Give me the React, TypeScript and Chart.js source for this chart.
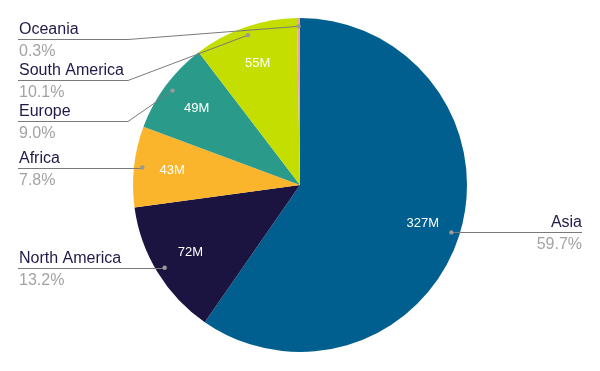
import React, { useEffect, useRef } from "react";
import { Chart, registerables } from "chart.js";

Chart.register(...registerables);

const categories = ["Asia", "North America", "Africa", "Europe", "South America", "Oceania"];
const values = [327.3, 72.4, 42.8, 49.2, 55.3, 1.6];
const colors = ["#005f8e", "#1b1340", "#fbb52c", "#2a9a8a", "#c3de00", "#f4a0a6"];

const FONT = "'Liberation Sans', Arial, sans-serif";

const labelPlugin = {
  id: "pieLabels",
  afterDatasetsDraw(chart: any) {
    const ctx = chart.ctx;
    const meta = chart.getDatasetMeta(0);
    const data = chart.data.datasets[0].data as number[];
    const total = data.reduce((a: number, b: number) => a + b, 0);
    const items: any[] = [];
    meta.data.forEach((arc: any, i: number) => {
      const { x, y, startAngle, endAngle, outerRadius } = arc.getProps(
        ["x", "y", "startAngle", "endAngle", "outerRadius"],
        true
      );
      const mid = (startAngle + endAngle) / 2;
      const pct = (data[i] / total) * 100;
      if (pct > 3) {
        const d = outerRadius * 0.77;
        ctx.save();
        ctx.fillStyle = "#ffffff";
        ctx.font = `13px ${FONT}`;
        ctx.textAlign = "center";
        ctx.textBaseline = "middle";
        ctx.fillText(`${Math.round(data[i])}M`, x + Math.cos(mid) * d, y + Math.sin(mid) * d);
        ctx.restore();
      }
      const dd = outerRadius * 0.95;
      items.push({
        i,
        dx: x + Math.cos(mid) * dd,
        dy: y + Math.sin(mid) * dd,
        right: Math.cos(mid) >= 0,
        pct,
      });
    });

    const layout = (list: any[]) => {
      list.sort((a, b) => a.dy - b.dy);
      let prev = -Infinity;
      list.forEach((it) => {
        it.ly = Math.max(it.dy, prev + 41, 39);
        prev = it.ly;
      });
    };
    const left = items.filter((it) => !it.right);
    const right = items.filter((it) => it.right);
    layout(left);
    layout(right);

    const drawItem = (it: any) => {
      ctx.save();
      ctx.strokeStyle = "#7a7a7a";
      ctx.lineWidth = 1;
      ctx.beginPath();
      const y = Math.round(it.ly) + 0.5;
      if (it.right) {
        ctx.moveTo(582, y);
        ctx.lineTo(it.dx, y);
        ctx.lineTo(it.dx, it.dy);
      } else {
        ctx.moveTo(18, y);
        if (Math.abs(it.ly - it.dy) < 1) {
          ctx.lineTo(it.dx, y);
        } else {
          ctx.lineTo(128, y);
          ctx.lineTo(it.dx, it.dy);
        }
      }
      ctx.stroke();
      ctx.fillStyle = "#999999";
      ctx.beginPath();
      ctx.arc(it.dx, it.dy, 2.2, 0, Math.PI * 2);
      ctx.fill();

      ctx.font = `16px ${FONT}`;
      ctx.textBaseline = "alphabetic";
      ctx.textAlign = it.right ? "right" : "left";
      const tx = it.right ? 582 : 19;
      ctx.fillStyle = "#1f1a48";
      ctx.fillText(categories[it.i], tx, it.ly - 5);
      ctx.fillStyle = "#a3a3a3";
      ctx.fillText(`${it.pct.toFixed(1)}%`, tx, it.ly + 17);
      ctx.restore();
    };
    left.forEach(drawItem);
    right.forEach(drawItem);
  },
};

export default function App() {
  const ref = useRef<HTMLCanvasElement>(null);
  useEffect(() => {
    if (!ref.current) return;
    const chart = new Chart(ref.current, {
      type: "pie",
      data: {
        labels: categories,
        datasets: [
          {
            data: values,
            backgroundColor: colors,
            borderWidth: 0,
          },
        ],
      },
      options: {
        responsive: false,
        animation: false,
        layout: { padding: { left: 133, right: 133, top: 18, bottom: 19 } },
        plugins: {
          legend: { display: false },
          tooltip: { enabled: false },
        },
      },
      plugins: [labelPlugin],
    });
    return () => chart.destroy();
  }, []);
  return (
    <div style={{ position: "fixed", left: 0, top: 0, width: 600, height: 371, background: "#fff" }}>
      <canvas ref={ref} width={600} height={371} />
    </div>
  );
}
